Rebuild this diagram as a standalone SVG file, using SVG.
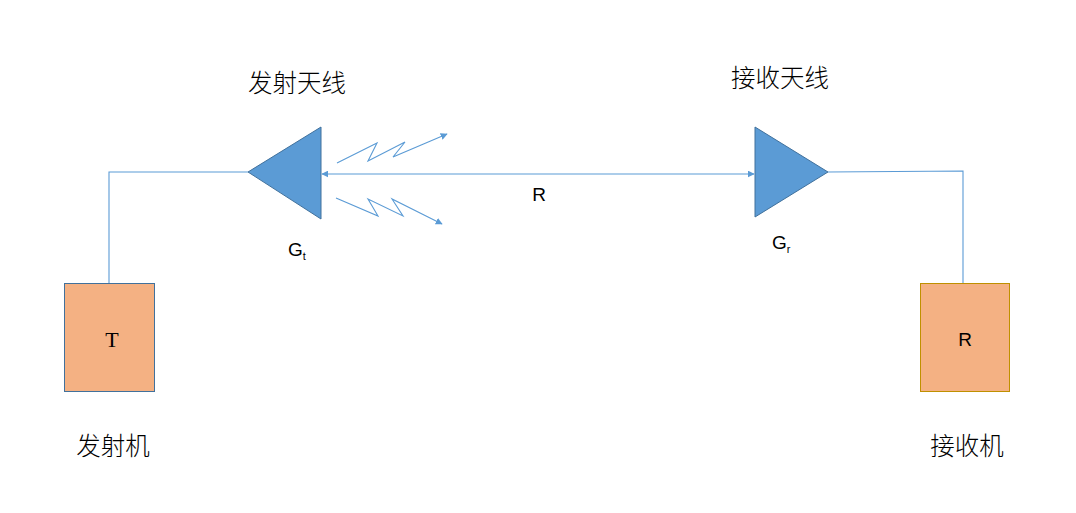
<svg xmlns="http://www.w3.org/2000/svg" width="1076" height="513" viewBox="0 0 1076 513">
<style>
.ln{fill:none;stroke:#5B9BD5;stroke-width:1.1}
.tri{fill:#5B9BD5;stroke:#41719C;stroke-width:1}
.cjk{font-family:"Noto Sans CJK SC","Noto Sans",sans-serif;font-size:24.5px;font-weight:300;fill:#000}
.lbl{font-family:"Liberation Sans",Arial,sans-serif;font-size:19px;fill:#000}
</style>
<defs>
<marker id="ah" viewBox="0 0 10 10" refX="9" refY="5" markerWidth="7" markerHeight="7" orient="auto-start-reverse" markerUnits="userSpaceOnUse">
<path d="M0,0 L10,5 L0,10 z" fill="#5B9BD5"/>
</marker>
</defs>
<rect width="1076" height="513" fill="#fff"/>
<g id="connectors">
<polyline class="ln" points="109,283 109,172 248,172"/>
<polyline class="ln" points="828,172 963,171 963,283"/>
<line class="ln" x1="322" y1="174" x2="754" y2="174" marker-start="url(#ah)" marker-end="url(#ah)"/>
<polyline class="ln" points="337,163 377,143 368,161 405,142 393,157 447,134" marker-end="url(#ah)"/>
<polyline class="ln" points="336,198 378,216 368,199 403,216 392,199 442,224" marker-end="url(#ah)"/>
</g>
<g id="tx-antenna">
<polygon class="tri" points="248,172 321,127 321,219"/>
<text class="cjk" x="297" y="92" text-anchor="middle">发射天线</text>
<text class="lbl" x="288" y="256">G<tspan font-size="11" dy="4">t</tspan></text>
</g>
<g id="rx-antenna">
<polygon class="tri" points="755,127 828,172 755,217"/>
<text class="cjk" x="780" y="87" text-anchor="middle">接收天线</text>
<text class="lbl" x="772" y="249">G<tspan font-size="11" dy="4">r</tspan></text>
</g>
<g id="range-label">
<text class="lbl" x="539" y="201" text-anchor="middle">R</text>
</g>
<g id="transmitter">
<rect x="64.5" y="283.5" width="90" height="108" fill="#F4B183" stroke="#41719C" stroke-width="1"/>
<text x="112" y="347" text-anchor="middle" font-family="Liberation Serif,serif" font-size="22">T</text>
<text class="cjk" x="113" y="455" text-anchor="middle">发射机</text>
</g>
<g id="receiver">
<rect x="920.5" y="283.5" width="89" height="108" fill="#F4B183" stroke="#BF9000" stroke-width="1"/>
<text class="lbl" x="965" y="346" text-anchor="middle">R</text>
<text class="cjk" x="967" y="455" text-anchor="middle">接收机</text>
</g>
</svg>
